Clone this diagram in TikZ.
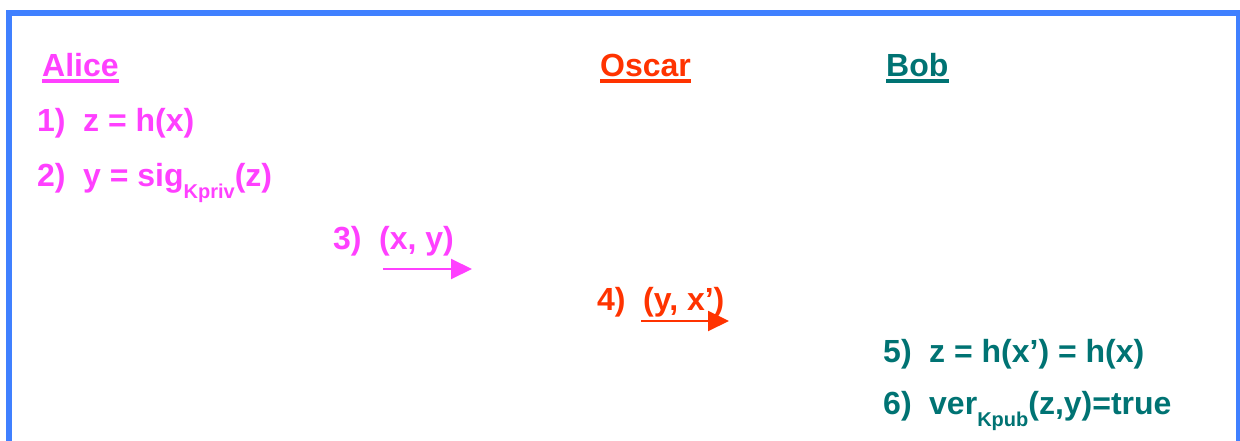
\documentclass[tikz,border=0pt]{standalone}
\usepackage{fontspec}
\setmainfont{Liberation Sans}
\usetikzlibrary{arrows.meta}
\definecolor{frameblue}{RGB}{64,128,255}
\definecolor{alicec}{RGB}{255,64,255}
\definecolor{oscarc}{RGB}{255,51,0}
\definecolor{bobc}{RGB}{0,115,115}
\newcommand{\subk}[1]{\raisebox{-12pt}{\fontsize{20}{20}\selectfont #1}}
\newcommand{\numbox}[1]{\makebox[46pt][l]{#1}}
\tikzset{
  txt/.style={anchor=base west, inner sep=0pt, font=\fontsize{32}{36}\selectfont\bfseries},
  title/.style={txt},
  uline/.style={line width=3.5pt},
  msg/.style={line width=2pt, -{Triangle[length=21pt,width=20pt]}},
}
\begin{document}
\begin{tikzpicture}[x=1pt,y=-1pt]
\useasboundingbox (0,0) rectangle (1240,441);
% frame
\draw[frameblue, line width=6pt] (9,445) -- (9,13.5) -- (1239,13.5) -- (1239,445);
% titles
\node[title, text=alicec] (alice) at (42,77) {Alice};
\node[title, text=oscarc] (oscar) at (600,77) {Oscar};
\node[title, text=bobc] (bob) at (886,77) {Bob};
\draw[uline, alicec] ([yshift=-4pt]alice.base west) -- ([yshift=-4pt]alice.base east);
\draw[uline, oscarc] ([yshift=-4pt]oscar.base west) -- ([yshift=-4pt]oscar.base east);
\draw[uline, bobc] ([yshift=-4pt]bob.base west) -- ([yshift=-4pt]bob.base east);
% Alice steps
\node[txt, text=alicec] (s1) at (37,132) {\numbox{1)}z = h(x)};
\node[txt, text=alicec] (s2) at (37,186) {\numbox{2)}y = sig\subk{Kpriv}(z)};
\node[txt, text=alicec] (s3) at (333,249) {\numbox{3)}(x, y)};
\coordinate (a3s) at (383,269);
\coordinate (a3e) at (472,269);
\draw[msg, alicec] (a3s) -- (a3e);
% Oscar
\node[txt, text=oscarc] (s4) at (597,310) {\numbox{4)}(y, x’)};
\coordinate (a4s) at (641,321);
\coordinate (a4e) at (729,321);
\draw[msg, oscarc] (a4s) -- (a4e);
% Bob
\node[txt, text=bobc] (s5) at (883,362) {\numbox{5)}z = h(x’) = h(x)};
\node[txt, text=bobc] (s6) at (883,414) {\numbox{6)}ver\subk{Kpub}(z,y)=true};
\end{tikzpicture}
\end{document}
